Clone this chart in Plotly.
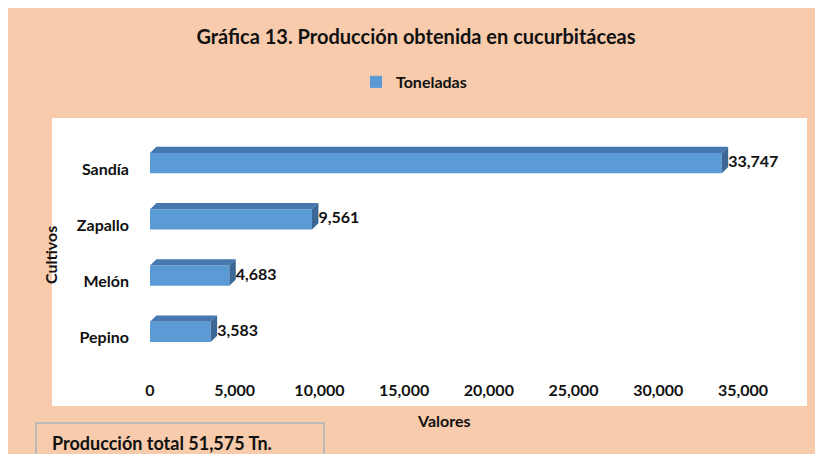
import plotly.graph_objects as go

# data
cultivos = ["Pepino", "Melón", "Zapallo", "Sandía"]
toneladas = [3583, 4683, 9561, 33747]
x_ticks = [0, 5000, 10000, 15000, 20000, 25000, 30000, 35000]
total_text = "Producción total 51,575 Tn."

# the page body adds an 8px margin, so the figure is drawn 8px in
OFF = 8
W, H = 823 - OFF, 454 - OFF
L, R, T, B = 150 - OFF, 80, 141 - OFF, 88
PW, PH = W - L - R, H - T - B
FONT = "Lato"

# 3d look of the bars (in data units)
bar_w = 0.36
shift = 0.107
dx = 380
dy = 0.11

FRONT = "#5B9BD5"
TOP = "#4677AE"
SIDE = "#3A6796"
PEACH = "#F7CBAC"
INK = "#111111"


def px(x):
    # screen x (reference picture) -> paper x
    return (x - OFF - L) / PW


def py(y):
    # screen y (reference picture) -> paper y
    return (H - B - (y - OFF)) / PH


pos = list(range(len(cultivos)))

fig = go.Figure()

fig.add_trace(go.Bar(
    x=toneladas, y=pos, orientation="h", name="Toneladas",
    width=bar_w, offset=-bar_w / 2 + shift,
    marker=dict(color=FRONT, line=dict(width=0)),
))

for c, v in zip(pos, toneladas):
    y0 = c - bar_w / 2 + shift
    y1 = c + bar_w / 2 + shift
    # top face
    fig.add_trace(go.Scatter(
        x=[0, v, v + dx, dx, 0], y=[y1, y1, y1 + dy, y1 + dy, y1],
        fill="toself", fillcolor=TOP, mode="lines", line=dict(width=0),
        showlegend=False, hoverinfo="skip",
    ))
    # side face
    fig.add_trace(go.Scatter(
        x=[v, v + dx, v + dx, v, v], y=[y0, y0 + dy, y1 + dy, y1, y0],
        fill="toself", fillcolor=SIDE, mode="lines", line=dict(width=0),
        showlegend=False, hoverinfo="skip",
    ))

fig.add_trace(go.Scatter(
    x=[v + dx for v in toneladas], y=[c + shift for c in pos],
    mode="text", text=[f"{v:,}" for v in toneladas], textposition="middle right",
    textfont=dict(family=FONT, size=16, color=INK),
    showlegend=False, hoverinfo="skip", cliponaxis=False,
))

shapes = [
    # white plot box
    dict(type="rect", xref="paper", yref="paper", layer="below",
         x0=px(52), x1=px(807), y0=py(118), y1=py(406),
         fillcolor="white", line=dict(width=0)),
    # total box
    dict(type="rect", xref="paper", yref="paper", layer="below",
         x0=px(36), x1=px(324), y0=py(423), y1=py(460),
         fillcolor=PEACH, line=dict(color="#A9B4C2", width=1.5)),
]

annotations = [
    dict(text="Valores", xref="paper", yref="paper", x=px(444), y=py(420),
         xanchor="center", yanchor="middle", showarrow=False,
         font=dict(family=FONT, size=16, color=INK)),
    dict(text="Cultivos", xref="paper", yref="paper", x=px(50), y=py(255),
         xanchor="center", yanchor="middle", textangle=-90, showarrow=False,
         font=dict(family=FONT, size=16, color=INK)),
    dict(text=total_text, xref="paper", yref="paper", x=px(50), y=py(443),
         xanchor="left", yanchor="middle", showarrow=False,
         font=dict(family=FONT, size=18, color=INK)),
]

fig.update_layout(
    width=W, height=H,
    margin=dict(l=L, r=R, t=T, b=B),
    paper_bgcolor=PEACH, plot_bgcolor="white",
    title=dict(text="<b>Gráfica 13. Producción obtenida en cucurbitáceas</b>",
               x=(416 - OFF) / W, y=1 - (37 - OFF) / H, xanchor="center", yanchor="middle",
               xref="container", yref="container",
               font=dict(family=FONT, size=20, color=INK)),
    legend=dict(orientation="h", xref="container", yref="container",
                x=(414 - OFF) / W, y=1 - (82 - OFF) / H, xanchor="center", yanchor="middle",
                font=dict(family=FONT, size=16, color=INK), bgcolor="rgba(0,0,0,0)"),
    xaxis=dict(range=[0, 35000], tickvals=x_ticks, tickformat=",", showgrid=False,
               zeroline=False, showline=False, ticks="", ticklabelstandoff=13,
               automargin=False, tickfont=dict(family=FONT, size=16, color=INK)),
    yaxis=dict(range=[-0.5, len(cultivos) - 0.5], tickvals=pos, ticktext=cultivos,
               showgrid=False, zeroline=False, showline=False, ticks="",
               automargin=False, ticklabelstandoff=20,
               tickfont=dict(family=FONT, size=16, color=INK)),
    shapes=shapes, annotations=annotations,
    font=dict(family=FONT, weight="bold"),
)

fig.write_html("out.html")
